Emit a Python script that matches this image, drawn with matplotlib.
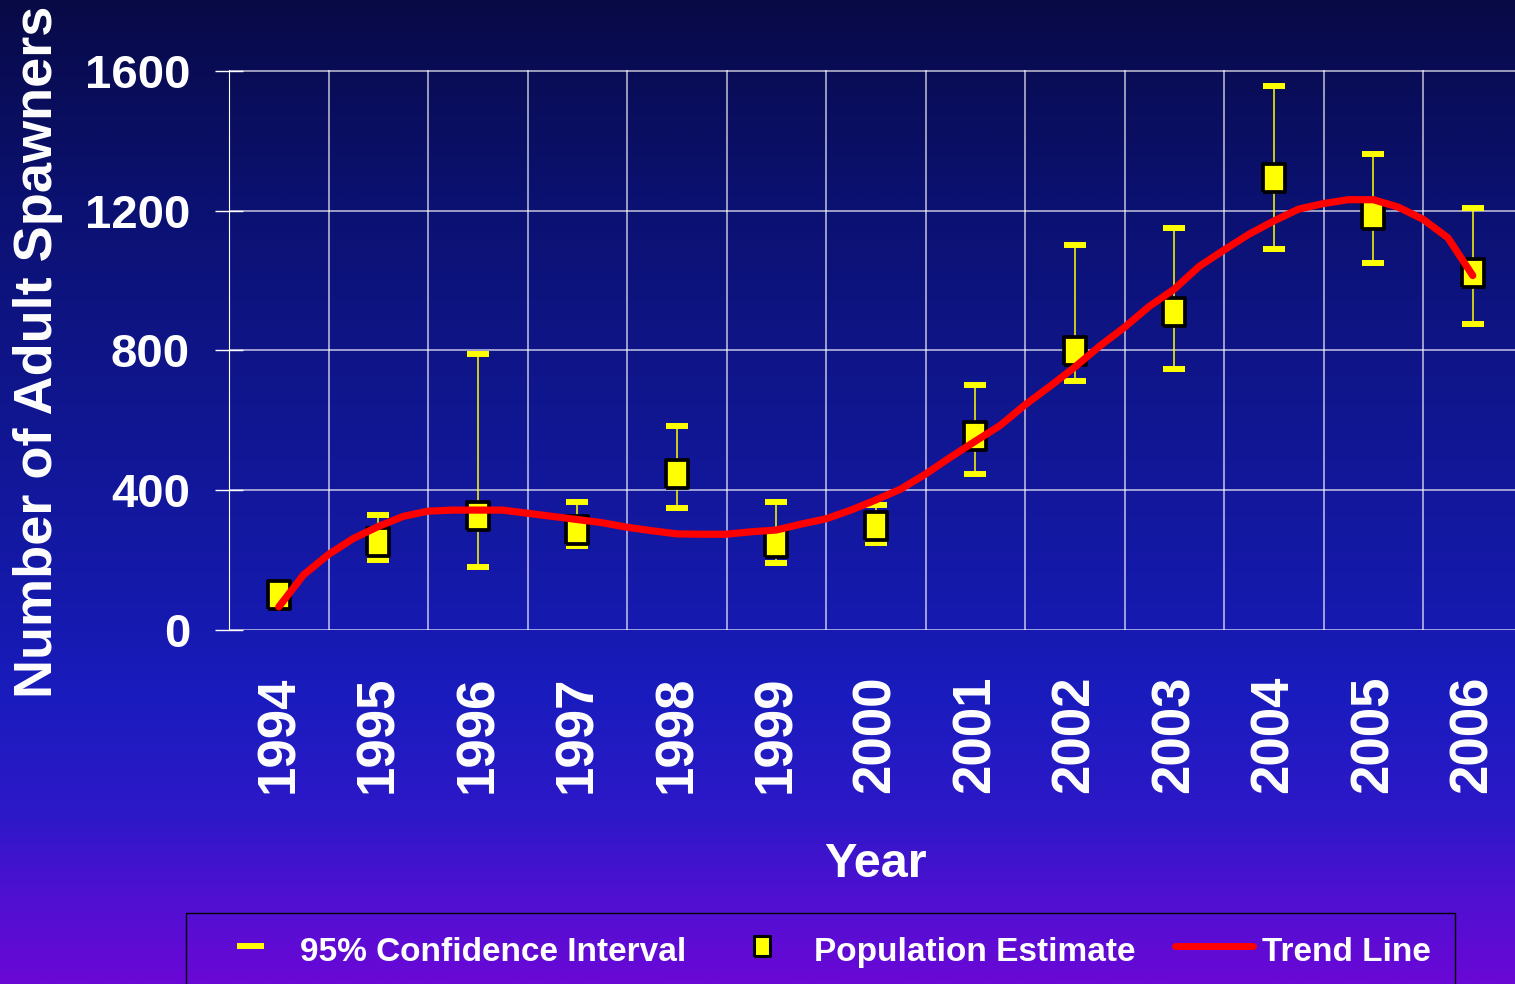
import matplotlib.pyplot as plt
import numpy as np
from matplotlib.colors import LinearSegmentedColormap
from matplotlib.lines import Line2D
from matplotlib.patches import Rectangle
from matplotlib.path import Path

# ---- data ----
years = [1994, 1995, 1996, 1997, 1998, 1999, 2000, 2001, 2002, 2003, 2004, 2005, 2006]
estimate = [100, 251, 326, 286, 446, 249, 297, 554, 797, 911, 1294, 1186, 1020]
ci_low = [np.nan, 200, 180, 240, 349, 191, 249, 446, 711, 746, 1089, 1049, 874]
ci_high = [np.nan, 329, 789, 366, 583, 366, 357, 700, 1100, 1149, 1557, 1363, 1206]

# trend line read at quarter-year steps
trend_years = [1994.0, 1994.25, 1994.5, 1994.75, 1995.0, 1995.25, 1995.5, 1995.75,
               1996.0, 1996.25, 1996.5, 1996.75, 1997.0, 1997.25, 1997.5, 1997.75,
               1998.0, 1998.25, 1998.5, 1998.75, 1999.0, 1999.25, 1999.5, 1999.75,
               2000.0, 2000.25, 2000.5, 2000.75, 2001.0, 2001.25, 2001.5, 2001.75,
               2002.0, 2002.25, 2002.5, 2002.75, 2003.0, 2003.25, 2003.5, 2003.75,
               2004.0, 2004.25, 2004.5, 2004.75, 2005.0, 2005.25, 2005.5, 2005.75,
               2006.0]
trend = [66, 158, 216, 262, 296, 325, 340, 343,
         343, 343, 334, 325, 316, 307, 294, 284,
         275, 274, 274, 281, 286, 303, 318, 343,
         372, 403, 446, 494, 540, 585, 644, 697,
         752, 812, 866, 926, 975, 1040, 1087, 1132,
         1170, 1204, 1220, 1231, 1231, 1210, 1175, 1122,
         1014]

y_ticks = [0, 400, 800, 1200, 1600]

plt.rcParams['font.family'] = ['Liberation Sans']
plt.rcParams['font.weight'] = 'bold'

W, H = 1515, 984
fig = plt.figure(figsize=(W / 100, H / 100), dpi=100)

# background gradient (bottom -> top)
bg = fig.add_axes([0, 0, 1, 1], zorder=-5)
cmap = LinearSegmentedColormap.from_list('bg', [
    (0.00, '#6a08d6'), (0.085, '#5010d2'), (0.167, '#2e18c8'), (0.29, '#1a1cbe'),
    (0.36, '#161ab0'), (0.59, '#10168e'), (0.80, '#0b1170'), (1.00, '#080a46')])
bg.imshow(np.linspace(0, 1, 512).reshape(-1, 1), aspect='auto', cmap=cmap,
          origin='lower', extent=[0, 1, 0, 1])
bg.axis('off')

ax = fig.add_axes([229 / W, 354 / H, 1286 / W, 560 / H])
ax.patch.set_alpha(0)
ax.set_xlim(1993.5, 1993.5 + 1286 / 99.5)
ax.set_ylim(0, 1602)

ax.set_yticks(y_ticks)
ax.set_yticklabels([str(v) for v in y_ticks], fontsize=34)
ax.set_xticks(years)
ax.set_xticklabels([str(y) for y in years], rotation=90, fontsize=38)
ax.set_xticks(np.arange(1993.5, 2006, 1), minor=True)
ax.tick_params(axis='y', direction='inout', length=20, width=1, color='white',
               labelcolor='white', pad=18)
ax.tick_params(axis='x', which='both', length=0, labelcolor='white', pad=33)
ax.grid(axis='y', color='white', alpha=0.75, lw=1.1)
ax.grid(axis='x', which='minor', color='white', alpha=0.75, lw=1.1)
for s in ['top', 'right', 'bottom']:
    ax.spines[s].set_visible(False)
ax.spines['left'].set_color('white')
ax.set_axisbelow(True)

box = Path([(-0.8, -1), (0.8, -1), (0.8, 1), (-0.8, 1), (-0.8, -1)])

est = np.array(estimate, dtype=float)
lo = np.array(ci_low)
hi = np.array(ci_high)
m = ~np.isnan(lo)
ax.errorbar(np.array(years)[m], est[m], yerr=[est[m] - lo[m], hi[m] - est[m]],
            fmt='none', ecolor='#ffff00', elinewidth=1.1, capsize=7.6, capthick=4.3,
            zorder=3)
ax.plot(years, estimate, ls='none', marker=box, markersize=20.5, markerfacecolor='#ffff00',
        markeredgecolor='black', markeredgewidth=2.7, zorder=4)
ax.plot(trend_years, trend, color='#ff0000', lw=5.2, solid_capstyle='round',
        solid_joinstyle='round', zorder=5)

fig.text(38 / W, 1 - 352 / H, 'Number of Adult Spawners', rotation=90, color='white',
         fontsize=39, ha='center', va='center')
fig.text(875 / W, 1 - 877 / H, 'Year', color='white', fontsize=35,
         ha='center', va='baseline')

# legend drawn by hand
fig.add_artist(Rectangle((186 / W, -0.05), (1455 - 186) / W, 0.05 + 1 - 913 / H,
                         transform=fig.transFigure, facecolor='none', edgecolor='black', lw=1))
ly = 1 - 946 / H
base = 1 - 961 / H
fig.add_artist(Line2D([240 / W, 261 / W], [ly, ly], transform=fig.transFigure,
                      color='#ffff00', lw=4.3))
fig.text(300 / W, base, '95% Confidence Interval', color='white', fontsize=24,
         va='baseline')
fig.add_artist(Line2D([762 / W], [ly], transform=fig.transFigure, ls='none', marker=box,
                      markersize=15, markerfacecolor='#ffff00', markeredgecolor='black',
                      markeredgewidth=2.2))
fig.text(814 / W, base, 'Population Estimate', color='white', fontsize=24,
         va='baseline')
fig.add_artist(Line2D([1175 / W, 1253 / W], [ly, ly], transform=fig.transFigure,
                      color='#ff0000', lw=5, solid_capstyle='round'))
fig.text(1262 / W, base, 'Trend Line', color='white', fontsize=24, va='baseline')

fig.savefig('out.png', dpi=100)
